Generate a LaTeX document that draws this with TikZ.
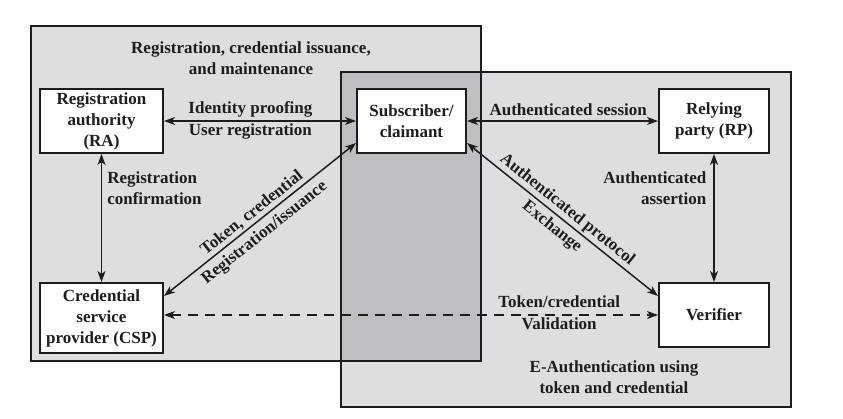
\documentclass[tikz,border=0pt]{standalone}
\usepackage{fontspec}
\setmainfont{Liberation Serif}
\usetikzlibrary{arrows.meta,calc}
\definecolor{lightbg}{RGB}{221,222,224}
\definecolor{darkbg}{RGB}{190,191,194}
\definecolor{ink}{RGB}{30,28,30}
\tikzset{
  box/.style={draw=ink, line width=2pt, fill=white, inner sep=0pt, align=center, text=ink},
  txt/.style={inner sep=0pt, align=center, text=ink},
  conn/.style={draw=ink, line width=1.5pt, {Stealth[length=11pt,width=8pt,inset=3pt]}-{Stealth[length=11pt,width=8pt,inset=3pt]}},
  dashconn/.style={conn, dash pattern=on 10pt off 7pt},
  region/.style={draw=ink, line width=1.6pt}
}
\begin{document}
\begin{tikzpicture}[x=1pt,y=-1pt,font=\bfseries\fontsize{17}{21}\selectfont]
\useasboundingbox (0,0) rectangle (843,419);
% background regions
\fill[lightbg] (31,26) rectangle (481,361);
\fill[lightbg] (341,72) rectangle (791,407);
\fill[darkbg] (341,72) rectangle (481,361);
\draw[region] (31,26) rectangle (481,361);
\draw[region] (341,72) rectangle (791,407);
% boxes
\node[box, minimum width=123pt, minimum height=64pt] (RA) at (101.5,121) {Registration\\authority\\(RA)};
\node[box, minimum width=109pt, minimum height=64pt] (Sub) at (411.5,121) {Subscriber/\\claimant};
\node[box, minimum width=110pt, minimum height=64pt] (RP) at (714,121) {Relying\\party (RP)};
\node[box, minimum width=123pt, minimum height=70pt] (CSP) at (101.5,318) {Credential\\service\\provider (CSP)};
\node[box, minimum width=110pt, minimum height=64pt] (Ver) at (714,315) {Verifier};
% region titles
\node[txt] (t1) at (251,58.5) {Registration, credential issuance,\\and maintenance};
\node[txt] (t2) at (614,377.5) {E-Authentication using\\token and credential};
% connectors
\draw[conn] (RA.east) -- node[txt, pos=0.45, above=3pt] (l1) {Identity proofing} node[txt, pos=0.45, below=2pt] (l2) {User registration} (Sub.west);
\draw[conn] (Sub.east) -- node[txt, pos=0.53, above=5pt] (l3) {Authenticated session} (RP.west);
\draw[conn] (RA.south) -- node[txt, pos=0.27, right=5pt, align=left] (l4) {Registration\\confirmation} (CSP.north);
\draw[conn] (RP.south) -- node[txt, pos=0.27, left=7pt, align=right] (l5) {Authenticated\\assertion} (Ver.north);
\draw[conn] ([yshift=-14pt]CSP.north east) -- node[txt, sloped, pos=0.49, above=2pt] (l6) {Token, credential} node[txt, sloped, pos=0.48, below=5pt] (l7) {Registration/issuance} ([yshift=11pt]Sub.south west);
\draw[conn] ([yshift=11pt]Sub.south east) -- node[txt, sloped, pos=0.49, above=2pt] (l8) {Authenticated protocol} node[txt, sloped, pos=0.485, below=4pt] (l9) {Exchange} ([yshift=-14pt]Ver.north west);
\draw[dashconn] ([yshift=3pt]CSP.east) -- node[txt, pos=0.80, above=7pt] (l10) {Token/credential} node[txt, pos=0.80, below=2pt] (l11) {Validation} (Ver.west);
\end{tikzpicture}
\end{document}
